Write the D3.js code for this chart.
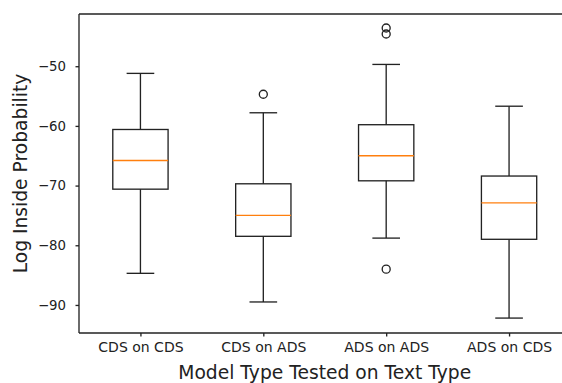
<!DOCTYPE html>
<html>
<head>
<meta charset="utf-8">
<script src="https://cdn.jsdelivr.net/npm/d3@7"></script>
<style>
  body { margin: 0; background: #fff; }
  svg text { font-family: "DejaVu Sans", sans-serif; fill: #222; }
</style>
</head>
<body>
<svg id="chart" width="562" height="383"></svg>
<script>
// categories and box stats
var categories = ["CDS on CDS", "CDS on ADS", "ADS on ADS", "ADS on CDS"];
var whiskerLow  = [-84.7, -89.5, -78.8, -92.2];
var q1          = [-70.6, -78.5, -69.2, -79.0];
var medians     = [-65.8, -75.0, -65.0, -72.9];
var q3          = [-60.6, -69.7, -59.8, -68.4];
var whiskerHigh = [-51.2, -57.8, -49.7, -56.7];
var fliers      = [[], [-54.7], [-43.6, -44.6, -84.0], []];
var yTicks = [-50, -60, -70, -80, -90];

var svg = d3.select("#chart");
var pLeft = 79, pTop = 14, pBottom = 333, pRight = 570.5;
var lw = 1.33;

// matplotlib style positions 1..4 with xlim 0.5..4.5
var x = d3.scaleLinear().domain([0.5, 4.5]).range([pLeft, pRight]);
var y = d3.scaleLinear().domain([-94.7, -41.25]).range([pBottom, pTop]);
var boxW = x(1.45) - x(1);
var capW = boxW / 2;

var boxes = categories.map(function(c, i) {
  return {name: c, pos: i + 1, lo: whiskerLow[i], q1: q1[i], med: medians[i],
          q3: q3[i], hi: whiskerHigh[i], out: fliers[i]};
});

// axes frame (right spine is outside the picture)
svg.append("line").attr("x1", pLeft).attr("x2", pLeft).attr("y1", pTop).attr("y2", pBottom)
  .attr("stroke", "#222").attr("stroke-width", lw);
svg.append("line").attr("x1", pLeft).attr("x2", 562).attr("y1", pBottom).attr("y2", pBottom)
  .attr("stroke", "#222").attr("stroke-width", lw);
svg.append("line").attr("x1", pLeft).attr("x2", 562).attr("y1", pTop).attr("y2", pTop)
  .attr("stroke", "#222").attr("stroke-width", lw);

// y axis
var yAxis = svg.append("g").attr("transform", "translate(" + pLeft + ",0)")
  .call(d3.axisLeft(y).tickValues(yTicks).tickSize(3.5).tickPadding(9.5)
    .tickFormat(function(d) { return d3.format("d")(d).replace("-", "\u2212"); }));
yAxis.select(".domain").remove();
yAxis.selectAll("line").attr("stroke", "#222").attr("stroke-width", lw);
yAxis.selectAll("text").attr("font-size", 13.3).attr("fill", "#222")
  .style("font-family", "DejaVu Sans");

// x axis
var xAxis = svg.append("g").attr("transform", "translate(0," + pBottom + ")")
  .call(d3.axisBottom(x).tickValues([1, 2, 3, 4]).tickSize(3.5).tickPadding(6)
    .tickFormat(function(d) { return categories[d - 1]; }));
xAxis.select(".domain").remove();
xAxis.selectAll("line").attr("stroke", "#222").attr("stroke-width", lw);
xAxis.selectAll("text").attr("font-size", 14).attr("fill", "#222")
  .style("font-family", "DejaVu Sans");

// boxes
var g = svg.selectAll("g.box").data(boxes).enter().append("g").attr("class", "box");
g.append("line").attr("x1", function(d) { return x(d.pos); }).attr("x2", function(d) { return x(d.pos); })
  .attr("y1", function(d) { return y(d.hi); }).attr("y2", function(d) { return y(d.q3); })
  .attr("stroke", "#222").attr("stroke-width", lw);
g.append("line").attr("x1", function(d) { return x(d.pos); }).attr("x2", function(d) { return x(d.pos); })
  .attr("y1", function(d) { return y(d.q1); }).attr("y2", function(d) { return y(d.lo); })
  .attr("stroke", "#222").attr("stroke-width", lw);
g.append("line").attr("x1", function(d) { return x(d.pos) - capW / 2; }).attr("x2", function(d) { return x(d.pos) + capW / 2; })
  .attr("y1", function(d) { return y(d.hi); }).attr("y2", function(d) { return y(d.hi); })
  .attr("stroke", "#222").attr("stroke-width", lw);
g.append("line").attr("x1", function(d) { return x(d.pos) - capW / 2; }).attr("x2", function(d) { return x(d.pos) + capW / 2; })
  .attr("y1", function(d) { return y(d.lo); }).attr("y2", function(d) { return y(d.lo); })
  .attr("stroke", "#222").attr("stroke-width", lw);
g.append("rect").attr("x", function(d) { return x(d.pos) - boxW / 2; }).attr("width", boxW)
  .attr("y", function(d) { return y(d.q3); }).attr("height", function(d) { return y(d.q1) - y(d.q3); })
  .attr("fill", "none").attr("stroke", "#222").attr("stroke-width", lw);
g.append("line").attr("x1", function(d) { return x(d.pos) - boxW / 2; }).attr("x2", function(d) { return x(d.pos) + boxW / 2; })
  .attr("y1", function(d) { return y(d.med); }).attr("y2", function(d) { return y(d.med); })
  .attr("stroke", "#ff7f0e").attr("stroke-width", lw);
g.selectAll("circle").data(function(d) { return d.out.map(function(v) { return {pos: d.pos, v: v}; }); })
  .enter().append("circle")
  .attr("cx", function(d) { return x(d.pos); }).attr("cy", function(d) { return y(d.v); })
  .attr("r", 4).attr("fill", "none").attr("stroke", "#222").attr("stroke-width", lw);

// axis labels
svg.append("text").attr("x", (pLeft + pRight) / 2).attr("y", 379).attr("text-anchor", "middle")
  .attr("font-size", 18.7).text("Model Type Tested on Text Type");
svg.append("text").attr("transform", "translate(27," + ((pTop + pBottom) / 2) + ") rotate(-90)")
  .attr("text-anchor", "middle").attr("font-size", 18.7).text("Log Inside Probability");
</script>
</body>
</html>
